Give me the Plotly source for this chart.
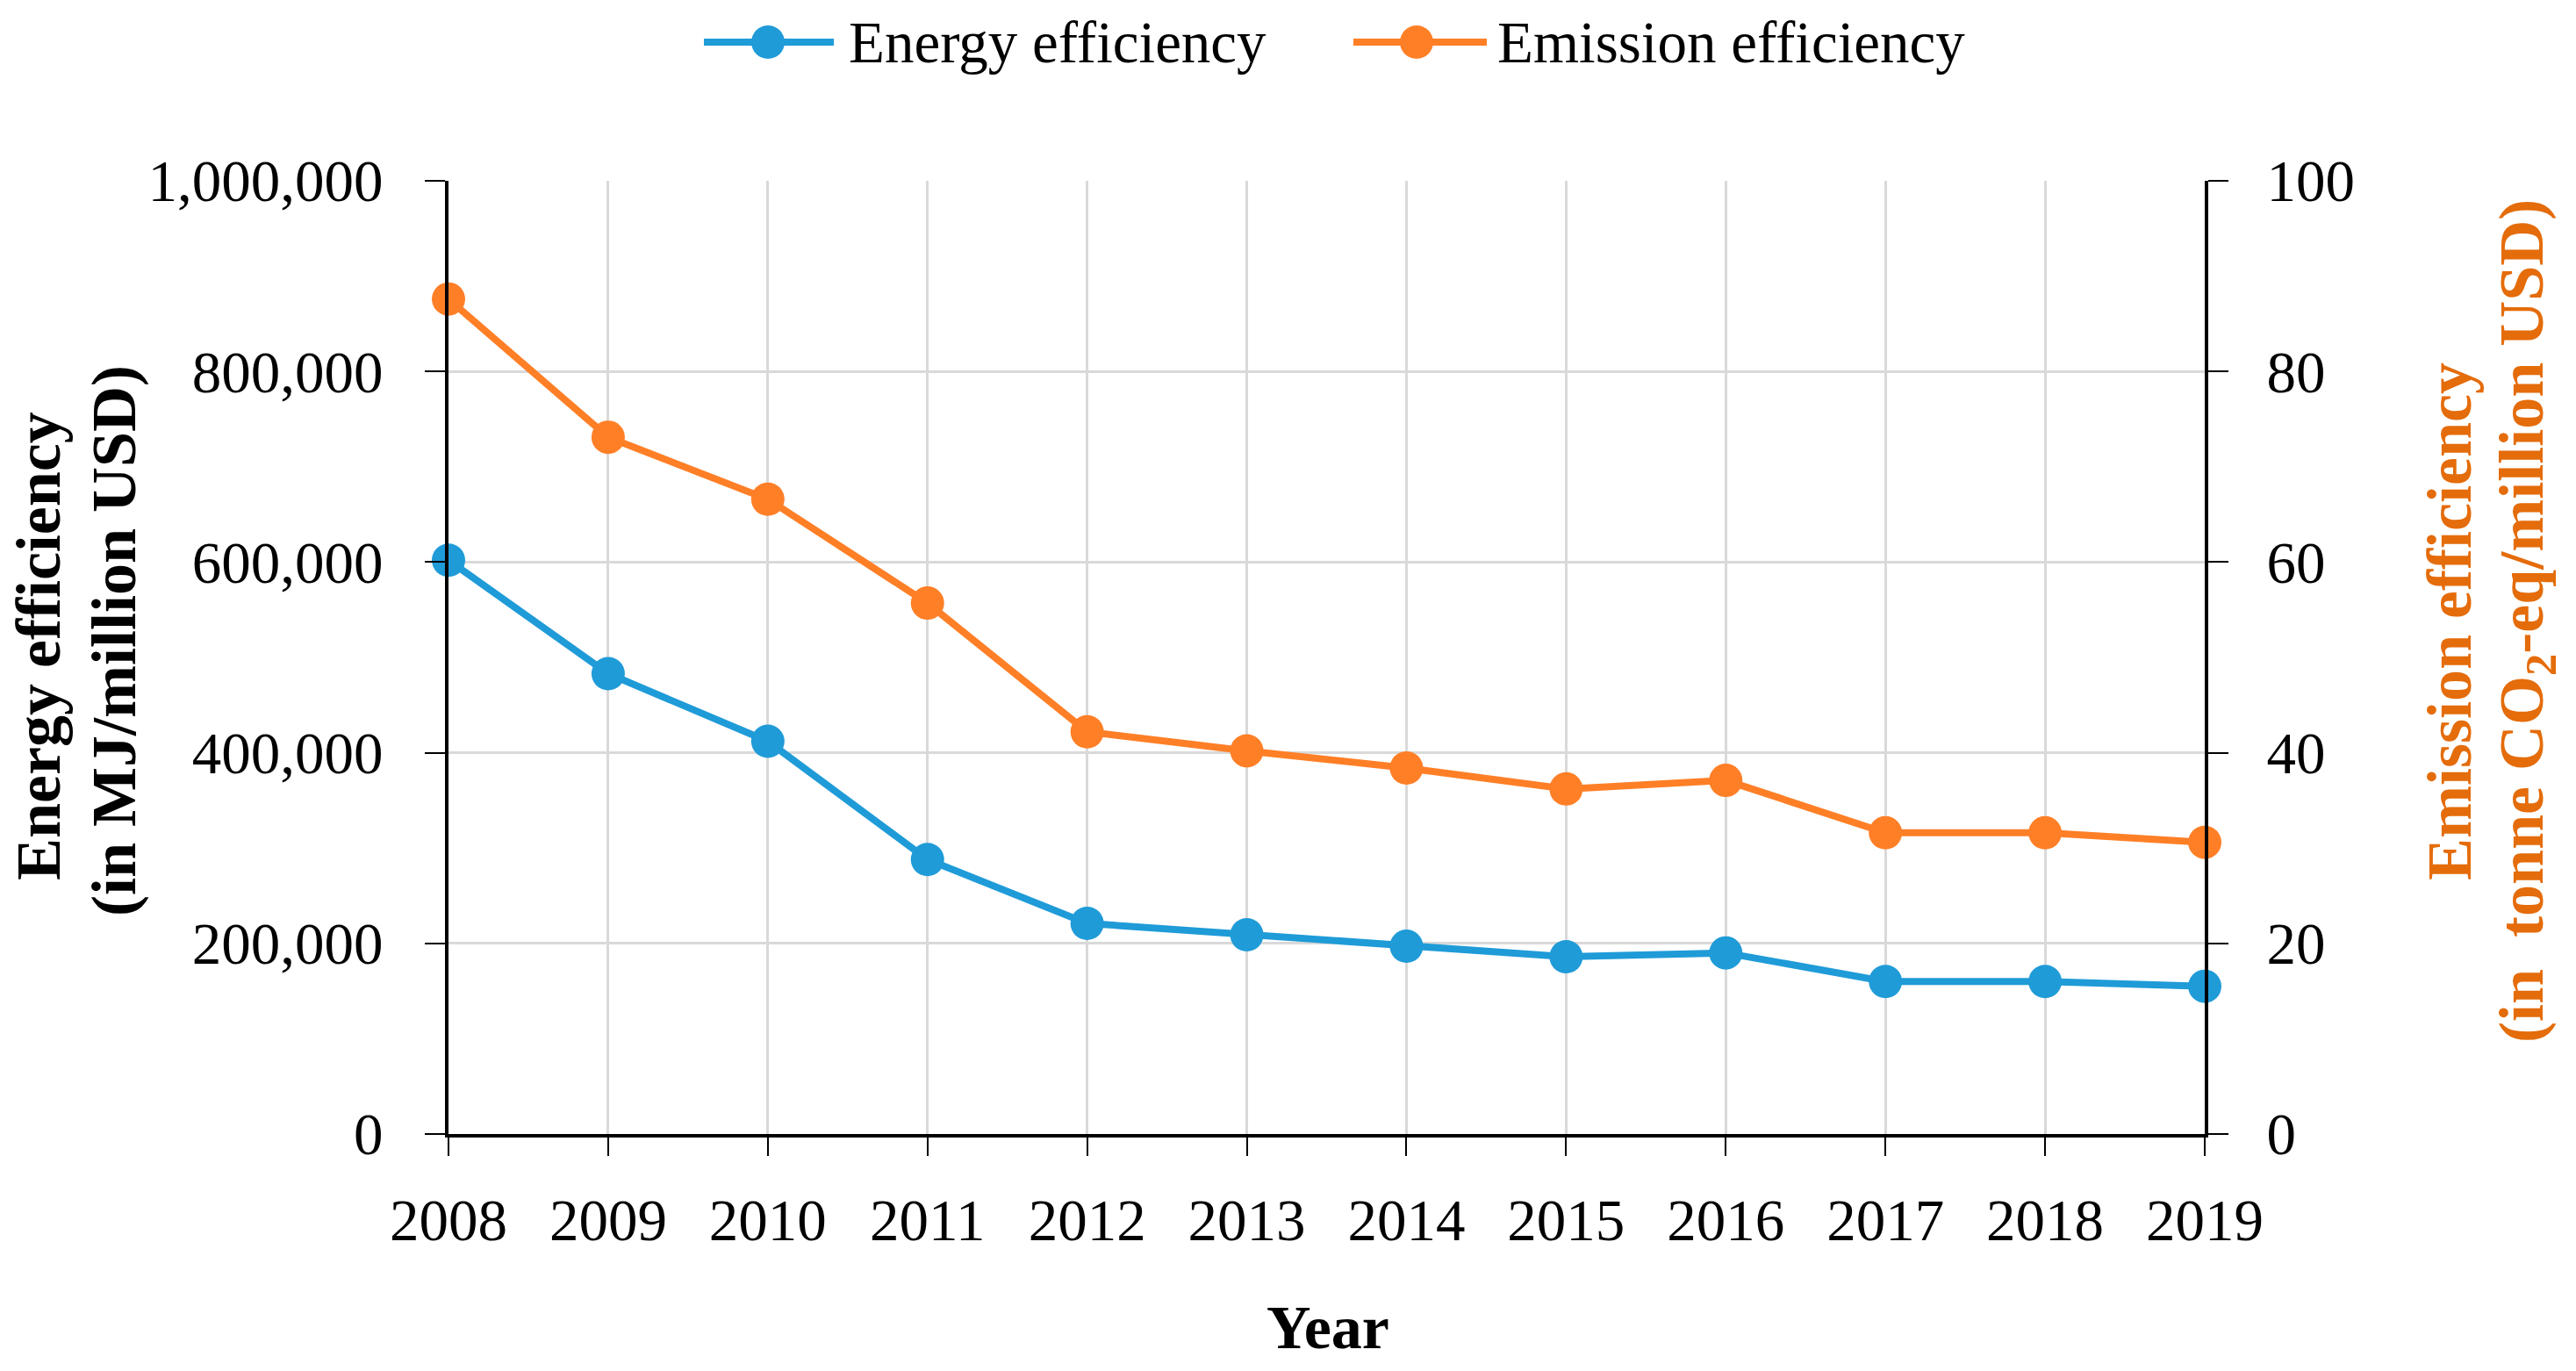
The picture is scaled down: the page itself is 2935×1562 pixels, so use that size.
import plotly.graph_objects as go

years = [2008, 2009, 2010, 2011, 2012, 2013, 2014, 2015, 2016, 2017, 2018, 2019]
energy_eff = [602000, 483000, 412000, 288000, 221000, 209000, 197000, 186000, 190000, 160000, 160000, 155000]
emission_eff = [87.6, 73.1, 66.6, 55.7, 42.2, 40.2, 38.4, 36.2, 37.1, 31.6, 31.6, 30.6]

left_ticks = [0, 200000, 400000, 600000, 800000, 1000000]
right_ticks = [0, 20, 40, 60, 80, 100]

BLUE = "#1F9BD8"
ORANGE = "#FF7F27"
TITLE_ORANGE = "#E46C0A"
FONT = "Liberation Serif"

# page geometry (the page body has an 8px margin)
OFF = 8
W, H = 2935 - 2 * OFF, 1562 - 2 * OFF
L, R, T, B = 511, 2512, 206, 1292  # plot area in page pixels


def px(x):
    return (x - L) / (R - L)


def py(y):
    return (B - y) / (B - T)


fig = go.Figure()
fig.add_trace(go.Scatter(x=years, y=energy_eff, name="Energy efficiency", mode="lines+markers",
                         line=dict(color=BLUE, width=8), marker=dict(color=BLUE, size=38),
                         showlegend=False, cliponaxis=False))
fig.add_trace(go.Scatter(x=years, y=emission_eff, name="Emission efficiency", mode="lines+markers",
                         line=dict(color=ORANGE, width=8), marker=dict(color=ORANGE, size=38),
                         yaxis="y2", showlegend=False, cliponaxis=False))

shapes = []
annotations = []
# custom legend
for (lx0, lx1, mx, tx, col, name) in [(802, 950, 875, 965, BLUE, "Energy efficiency"),
                                        (1542, 1694, 1614, 1704, ORANGE, "Emission efficiency")]:
    yy = 48
    shapes.append(dict(type="line", xref="paper", yref="paper", x0=px(lx0), x1=px(lx1), y0=py(yy), y1=py(yy),
                       line=dict(color=col, width=8)))
    shapes.append(dict(type="circle", xref="paper", yref="paper", x0=px(mx - 19), x1=px(mx + 19),
                       y0=py(yy - 19), y1=py(yy + 19), fillcolor=col, line=dict(color=col, width=0)))
    annotations.append(dict(text=name, xref="paper", yref="paper", x=px(tx), y=py(yy), xanchor="left",
                            yanchor="middle", showarrow=False, font=dict(family=FONT, size=67, color="black")))

annotations.append(dict(text="<b>Year</b>", xref="paper", yref="paper", x=px(1513), y=py(1512),
                        xanchor="center", yanchor="middle", showarrow=False,
                        font=dict(family=FONT, size=70, color="black")))
for (txt, cx, cy, col) in [("<b>Energy efficiency</b>", 44, 736, "black"),
                           ("<b>(in MJ/million USD)</b>", 130, 730, "black"),
                           ("<b>Emission efficiency</b>", 2791, 708, TITLE_ORANGE),
                           ("<b>(in \u00a0tonne CO<sub>2</sub>-eq/million USD)</b>", 2878, 708, TITLE_ORANGE)]:
    annotations.append(dict(text=txt, xref="paper", yref="paper", x=px(cx), y=py(cy),
                            xanchor="center", yanchor="middle", textangle=-90, showarrow=False,
                            font=dict(family=FONT, size=72, color=col)))

tickfont = dict(family=FONT, size=67, color="black")

fig.update_layout(
    width=W, height=H,
    margin=dict(l=L - OFF, r=W - (R - OFF), t=T - OFF, b=H - (B - OFF), pad=0),
    paper_bgcolor="white", plot_bgcolor="white",
    shapes=shapes, annotations=annotations,
    xaxis=dict(type="linear", range=[2008, 2019], tickvals=years, ticktext=[str(y) for y in years],
               showgrid=True, gridcolor="#D9D9D9", gridwidth=3, zeroline=False,
               showline=True, linecolor="black", linewidth=4,
               ticks="outside", ticklen=21, tickwidth=2, tickcolor="black",
               tickfont=tickfont, ticklabelstandoff=16),
    yaxis=dict(range=[0, 1000000], tickvals=left_ticks, tickformat=",",
               showgrid=True, gridcolor="#D9D9D9", gridwidth=3, zeroline=False,
               showline=True, linecolor="black", linewidth=4,
               ticks="outside", ticklen=23, tickwidth=2, tickcolor="black",
               tickfont=tickfont, ticklabelstandoff=34),
    yaxis2=dict(range=[0, 100], tickvals=right_ticks, overlaying="y", side="right",
                showgrid=False, zeroline=False,
                showline=True, linecolor="black", linewidth=4,
                ticks="outside", ticklen=23, tickwidth=2, tickcolor="black",
                tickfont=tickfont, ticklabelstandoff=30),
)

fig.write_html("out.html")
